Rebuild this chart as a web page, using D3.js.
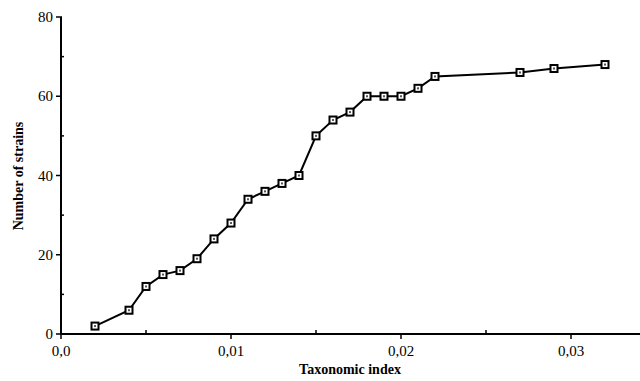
<!DOCTYPE html>
<html lang="en">
<head>
<meta charset="UTF-8">
<script src="https://d3js.org/d3.v7.min.js"></script>
<title>taxonomic index</title>
<style>
  body { margin: 0; background: #fff; }
  text { font-family: "Liberation Serif", "Times New Roman", serif; fill: #000; }
</style>
</head>
<body>
<svg id="chart" width="640" height="381"></svg>
<script>
// values
const taxIndex = [0.002, 0.004, 0.005, 0.006, 0.007, 0.008, 0.009, 0.010, 0.011, 0.012,
  0.013, 0.014, 0.015, 0.016, 0.017, 0.018, 0.019, 0.020, 0.021, 0.022, 0.027, 0.029, 0.032];
const strains = [2, 6, 12, 15, 16, 19, 24, 28, 34, 36,
  38, 40, 50, 54, 56, 60, 60, 60, 62, 65, 66, 67, 68];
const xTicks = [0, 0.01, 0.02, 0.03];
const xTickLabels = ["0,0", "0,01", "0,02", "0,03"];
const xMinor = [0.005, 0.015, 0.025];
const yTicks = [0, 20, 40, 60, 80];
const yMinor = [10, 30, 50, 70];

const svg = d3.select("#chart");
const x = d3.scaleLinear().domain([0, 0.034]).range([61, 639]);
const y = d3.scaleLinear().domain([0, 80]).range([334, 17]);

// x axis
const xAxis = svg.append("g").attr("transform", "translate(0," + y(0) + ")");
xAxis.append("line").attr("x1", x(0)).attr("x2", 640).attr("stroke", "#000").attr("stroke-width", 2);
xAxis.selectAll(".maj").data(xTicks).join("line")
  .attr("x1", d => x(d)).attr("x2", d => x(d)).attr("y1", 0).attr("y2", 5)
  .attr("stroke", "#000").attr("stroke-width", 1.5);
xAxis.selectAll(".min").data(xMinor).join("line")
  .attr("x1", d => x(d)).attr("x2", d => x(d)).attr("y1", -4).attr("y2", 0)
  .attr("stroke", "#000").attr("stroke-width", 1.5);
xAxis.selectAll("text").data(xTicks).join("text")
  .attr("x", d => x(d)).attr("y", 22)
  .attr("text-anchor", "middle").style("font-size", "15px")
  .text((d, i) => xTickLabels[i]);

// y axis
const yAxis = svg.append("g").attr("transform", "translate(" + x(0) + ",0)");
yAxis.append("line").attr("y1", y(0)).attr("y2", y(80)).attr("stroke", "#000").attr("stroke-width", 2);
yAxis.selectAll(".maj").data(yTicks).join("line")
  .attr("y1", d => y(d)).attr("y2", d => y(d)).attr("x1", -5).attr("x2", 1)
  .attr("stroke", "#000").attr("stroke-width", 1.5);
yAxis.selectAll(".min").data(yMinor).join("line")
  .attr("y1", d => y(d)).attr("y2", d => y(d)).attr("x1", 0).attr("x2", 3)
  .attr("stroke", "#000").attr("stroke-width", 1.5);
yAxis.selectAll("text").data(yTicks).join("text")
  .attr("x", -8).attr("y", d => y(d) + 5)
  .attr("text-anchor", "end").style("font-size", "15px")
  .text(d => d);

// titles
svg.append("text")
  .attr("x", 350).attr("y", 374)
  .attr("text-anchor", "middle")
  .style("font-size", "14px").style("font-weight", "bold")
  .text("Taxonomic index");
svg.append("text")
  .attr("transform", "translate(23,176) rotate(-90)")
  .attr("text-anchor", "middle")
  .style("font-size", "14px").style("font-weight", "bold")
  .text("Number of strains");

// line
const pts = taxIndex.map((d, i) => [d, strains[i]]);
svg.append("path")
  .datum(pts)
  .attr("fill", "none").attr("stroke", "#000").attr("stroke-width", 2)
  .attr("d", d3.line().x(d => x(d[0])).y(d => y(d[1])));

// markers
const mk = svg.append("g").selectAll("g").data(pts).join("g")
  .attr("transform", d => "translate(" + x(d[0]) + "," + y(d[1]) + ")");
mk.append("rect").attr("x", -3.5).attr("y", -3.5).attr("width", 7).attr("height", 7)
  .attr("fill", "#fff").attr("stroke", "#000").attr("stroke-width", 2);
mk.append("rect").attr("x", -1).attr("y", -1).attr("width", 2).attr("height", 2)
  .attr("fill", "#555");
</script>
</body>
</html>
